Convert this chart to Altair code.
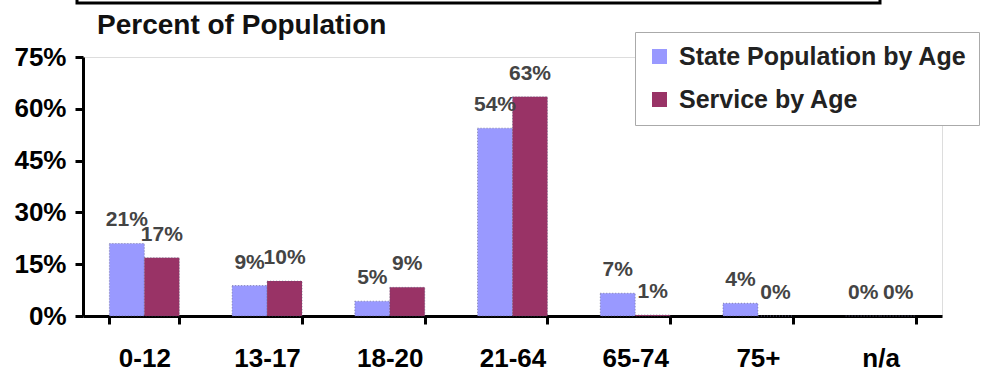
import altair as alt
import pandas as pd

categories = ["0-12", "13-17", "18-20", "21-64", "65-74", "75+", "n/a"]
state_values = [21.0, 8.8, 4.3, 54.4, 6.6, 3.7, 0.0]
service_values = [16.9, 10.1, 8.3, 63.5, 0.3, 0.0, 0.0]
state_labels = ["21%", "9%", "5%", "54%", "7%", "4%", "0%"]
service_labels = ["17%", "10%", "9%", "63%", "1%", "0%", "0%"]
series_names = ["State Population by Age", "\u00a0Service by Age"]
series_colors = ["#9999FF", "#993366"]
y_ticks = [0, 15, 30, 45, 60, 75]
title_text = ["Percent of Population"]

rows = []
for i, c in enumerate(categories):
    rows.append({"cat": c, "series": series_names[0], "value": state_values[i], "label": state_labels[i]})
    rows.append({"cat": c, "series": series_names[1], "value": service_values[i], "label": service_labels[i]})
df = pd.DataFrame(rows)

FONT = "Liberation Sans"

x_enc = alt.X(
    "cat:N",
    sort=categories,
    scale=alt.Scale(paddingInner=0.43, paddingOuter=0.215),
    axis=alt.Axis(
        title=None, labelAngle=0, tickBand="extent", tickSize=8, tickWidth=3,
        tickColor="black", domainWidth=3, domainColor="black",
        labelFont=FONT, labelFontSize=26, labelFontWeight="bold", labelColor="black",
        labelPadding=21,
    ),
)
y_enc = alt.Y(
    "value:Q",
    scale=alt.Scale(domain=[0, 75], nice=False),
    axis=alt.Axis(
        title=None, values=y_ticks, labelExpr="datum.value + '%'", grid=False,
        tickSize=8, tickWidth=3, tickColor="black", domainWidth=3, domainColor="black",
        labelFont=FONT, labelFontSize=26, labelFontWeight="bold", labelColor="black",
        labelPadding=9,
    ),
)
xoff = alt.XOffset("series:N", sort=series_names, scale=alt.Scale(paddingInner=0, paddingOuter=0))

bars = alt.Chart(df).mark_bar(stroke="#555577", strokeWidth=0.6, strokeDash=[1, 2]).encode(
    x=x_enc,
    y=y_enc,
    xOffset=xoff,
    color=alt.Color(
        "series:N",
        sort=series_names,
        scale=alt.Scale(domain=series_names, range=series_colors),
        legend=alt.Legend(
            title=None, orient="none", legendX=552, legendY=-25,
            symbolType="square", symbolSize=225, symbolStrokeWidth=0,
            labelFont=FONT, labelFontSize=25, labelFontWeight="bold", labelColor="#222",
            labelOffset=7, rowPadding=17, padding=12, labelLimit=400,
            strokeColor="#aaaaaa", fillColor="white",
        ),
    ),
)

texts = alt.Chart(df).mark_text(
    dy=-17, fontSize=21, font=FONT, fontWeight="bold", color="#444444", baseline="alphabetic"
).encode(
    x=alt.X("cat:N", sort=categories),
    y="value:Q",
    xOffset=alt.XOffset("series:N", sort=series_names),
    text="label:N",
)

box = alt.Chart(pd.DataFrame({"k": [0]})).mark_rect(
    fill=None, stroke="black", strokeWidth=3
).encode(
    x=alt.value(-6), x2=alt.value(797), y=alt.value(-80), y2=alt.value(-54)
)

title = alt.Chart(pd.DataFrame({"t": title_text})).mark_text(
    font=FONT, fontSize=28, fontWeight="bold", color="#111111", align="left", baseline="middle"
).encode(
    x=alt.value(14), y=alt.value(-31), text="t:N"
)

chart = alt.layer(box, bars, texts, title).properties(
    width=859,
    height=259,
    autosize=alt.AutoSizeParams(type="none"),
    padding={"left": 83, "top": 57, "right": 39, "bottom": 63},
).configure_view(stroke=None).configure(background="white")

chart.save("out.html", embed_options={"renderer": "svg", "actions": False})
